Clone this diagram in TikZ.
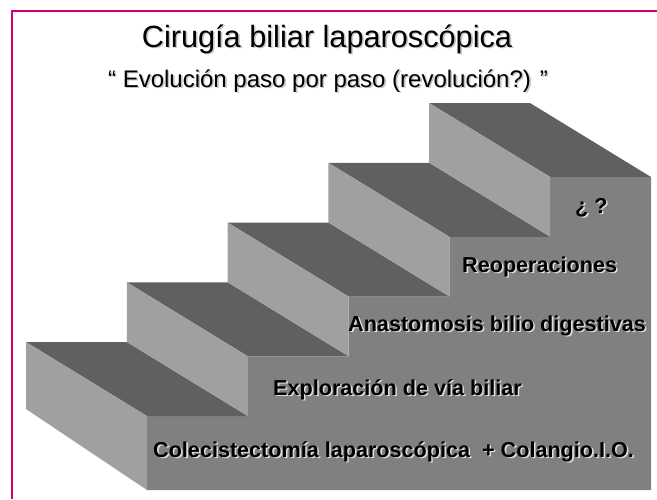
\documentclass[tikz,border=0pt]{standalone}
\usepackage{fontspec}
\setmainfont{Liberation Sans}

\definecolor{framemagenta}{RGB}{214,0,110}
\definecolor{stairtop}{HTML}{606060}
\definecolor{stairside}{HTML}{A0A0A0}
\definecolor{stairfront}{HTML}{808080}

% texto con sombra desplazada
\newcommand{\shadowtxt}[2]{\makebox[0pt][l]{\hspace{1.6pt}\raisebox{-1.6pt}{\textcolor{#1}{#2}}}#2}

\tikzset{
  titletext/.style={anchor=base, inner sep=0pt, font=\fontsize{30.7}{34}\selectfont},
  subtitletext/.style={anchor=base, inner sep=0pt, font=\fontsize{24}{28}\selectfont},
  steplabel/.style={anchor=base west, inner sep=0pt, font=\fontsize{21.6}{24}\selectfont\bfseries},
}

\begin{document}
\begin{tikzpicture}[x=1pt, y=-1pt]
    \useasboundingbox (0,0) rectangle (657,499);

    % --- MARCO ---
    \draw[framemagenta, line width=2pt] (12,499) -- (12,11.3) -- (657,11.3);

    % --- TITULOS ---
    \node[titletext] (title) at (327,47) {\shadowtxt{gray!45}{Cirugía biliar laparoscópica}};
    \node[subtitletext] (subtitle) at (328,87) {\shadowtxt{gray!45}{“ Evolución paso por paso (revolución?) ”}};

    % --- ESCALERA ---
    % Cara frontal (perfil escalonado)
    \fill[stairfront] (147,490) -- (147,416) -- (247.8,416) -- (247.8,356.25)
        -- (348.6,356.25) -- (348.6,296.5) -- (449.4,296.5) -- (449.4,236.75)
        -- (550.2,236.75) -- (550.2,177) -- (651,177) -- (651,490) -- cycle;

    % Caras superiores
    \foreach \k in {0,...,4} {
        \pgfmathsetmacro\bx{26+100.8*\k}
        \pgfmathsetmacro\by{342-59.75*\k}
        \fill[stairtop] (\bx,\by) -- ++(100.8,0) -- ++(121,74) -- ++(-100.8,0) -- cycle;
    }

    % Caras laterales
    \fill[stairside] (26,342) -- (147,416) -- (147,490) -- (26,409) -- cycle;
    \foreach \k in {1,...,4} {
        \pgfmathsetmacro\bx{26+100.8*\k}
        \pgfmathsetmacro\by{342-59.75*\k}
        \fill[stairside] (\bx,\by) -- ++(121,74) -- ++(0,59.75) -- ++(-121,-74) -- cycle;
    }

    % --- ETIQUETAS DE LOS PELDAÑOS ---
    \node[steplabel] (unknown) at (575,213) {\shadowtxt{gray!25}{¿ ?}};
    \node[steplabel] (reop) at (462,272) {\shadowtxt{gray!25}{Reoperaciones}};
    \node[steplabel] (anast) at (348,331) {\shadowtxt{gray!25}{Anastomosis bilio digestivas}};
    \node[steplabel] (explor) at (273,395) {\shadowtxt{gray!25}{Exploración de vía biliar}};
    \node[steplabel] (colecis) at (153,457) {\shadowtxt{gray!25}{Colecistectomía laparoscópica\ \ + Colangio.I.O.}};

\end{tikzpicture}
\end{document}
